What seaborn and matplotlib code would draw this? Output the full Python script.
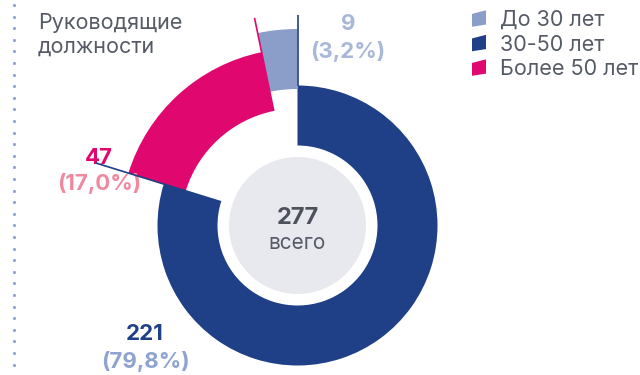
import numpy as np
import matplotlib
matplotlib.use("Agg")
import matplotlib.pyplot as plt
import seaborn as sns
from matplotlib.legend_handler import HandlerPatch
from matplotlib.patches import Polygon, Wedge

# --- data -------------------------------------------------------------
categories = ["До 30 лет", "30-50 лет", "Более 50 лет"]
counts = [9, 221, 47]
title_lines = ["Руководящие", "должности"]
total_caption = "всего"

# order of the segments clockwise from 12 o'clock
ring_order = ["30-50 лет", "Более 50 лет", "До 30 лет"]

# --- style ------------------------------------------------------------
sns.set_theme(style="white")
plt.rcParams["font.family"] = ["Inter", "DejaVu Sans"]

colors = {"До 30 лет": "#8a9ec9", "30-50 лет": "#1f3f87", "Более 50 лет": "#e0076e"}
pct_colors = {"До 30 лет": "#a9b7d9", "30-50 лет": "#8ea3cf", "Более 50 лет": "#f0899f"}
outer_r = {"30-50 лет": 140, "Более 50 лет": 177, "До 30 лет": 196.5}
ring_w = 60
text_grey = "#555a65"

W, H = 640, 375
fig = plt.figure(figsize=(W / 100, H / 100), dpi=100)
ax = fig.add_axes([0, 0, 1, 1])
CX, CY = 297.5, H - 225.5

vals = [counts[categories.index(c)] for c in ring_order]
total = sum(vals)

# each segment is a ring of its own radius
handles = {}
for i, cat in enumerate(ring_order):
    cols = [colors[c] if c == cat else "none" for c in ring_order]
    wedges, _ = ax.pie(vals, colors=cols, startangle=90, counterclock=False,
                       radius=outer_r[cat], center=(CX, CY),
                       wedgeprops=dict(width=ring_w, linewidth=0))
    handles[cat] = wedges[i]

# grey disc in the middle with the total
ax.pie([total], colors=["#e8e9ef"], radius=68.5, center=(CX, CY),
       wedgeprops=dict(linewidth=0))
ax.text(CX, H - 218.5, f"{total}", ha="center", va="center",
        fontsize=17, fontweight="bold", color="#4d515b")
ax.text(CX, H - 243, total_caption, ha="center", va="center",
        fontsize=15, color=text_grey)

# thin radial rules at the segment boundaries
cum = np.concatenate([[0], np.cumsum(vals)])
rules = [(cum[0], 140, 211, colors["30-50 лет"]),
         (cum[1], 80, 211, colors["30-50 лет"]),
         (cum[2], 117, 212, colors["Более 50 лет"])]
for c, r0, r1, col in rules:
    th = np.deg2rad(90 - 360 * c / total)
    ax.plot([CX + r0 * np.cos(th), CX + r1 * np.cos(th)],
            [CY + r0 * np.sin(th), CY + r1 * np.sin(th)],
            color=col, lw=1.2, solid_capstyle="butt", zorder=5)

# value labels
label_pos = {"До 30 лет": (348, 24, 52),
             "Более 50 лет": (99, 158, 184),
             "30-50 лет": (145, 334, 362)}
for cat, v in zip(categories, counts):
    x, y1, y2 = label_pos[cat]
    pct = f"({v / total * 100:.1f}%)".replace(".", ",")
    ax.text(x, H - y1, f"{v}", ha="center", va="center", fontsize=16,
            fontweight="bold", color=colors[cat] if cat != "До 30 лет" else pct_colors[cat])
    ax.text(x, H - y2, pct, ha="center", va="center", fontsize=16,
            fontweight="bold", color=pct_colors[cat])

# heading
ax.text(38, H - 23, title_lines[0], ha="left", va="center", fontsize=15.5, color=text_grey)
ax.text(38, H - 47, title_lines[1], ha="left", va="center", fontsize=15.5, color=text_grey)

# dotted rule on the left
dot_y = np.arange(5, H, 11.6)
ax.scatter(np.full_like(dot_y, 14.0), H - dot_y, s=5, color="#8fa2cf", linewidths=0)


class SkewHandler(HandlerPatch):
    def create_artists(self, legend, orig_handle, xdescent, ydescent,
                       width, height, fontsize, trans):
        x0, y0 = -xdescent, -ydescent
        k = 0.22 * height
        pts = [(x0, y0), (x0 + width, y0 + k * 0.6),
               (x0 + width, y0 + height), (x0, y0 + height - k)]
        p = Polygon(pts, closed=True, facecolor=orig_handle.get_facecolor(),
                    edgecolor="none", transform=trans)
        return [p]


leg = ax.legend([handles[c] for c in categories], categories,
                loc="upper left", bbox_to_anchor=(472 / W, 1 - 10 / H),
                frameon=False, fontsize=15.5, labelspacing=0.21,
                handlelength=0.65, handleheight=0.8, handletextpad=0.65,
                borderpad=0, borderaxespad=0,
                handler_map={Wedge: SkewHandler()})
for t in leg.get_texts():
    t.set_color(text_grey)

ax.set_xlim(0, W)
ax.set_ylim(0, H)
ax.set_aspect("equal", adjustable="box")
ax.axis("off")

fig.savefig("out.png", dpi=100, facecolor="white")
